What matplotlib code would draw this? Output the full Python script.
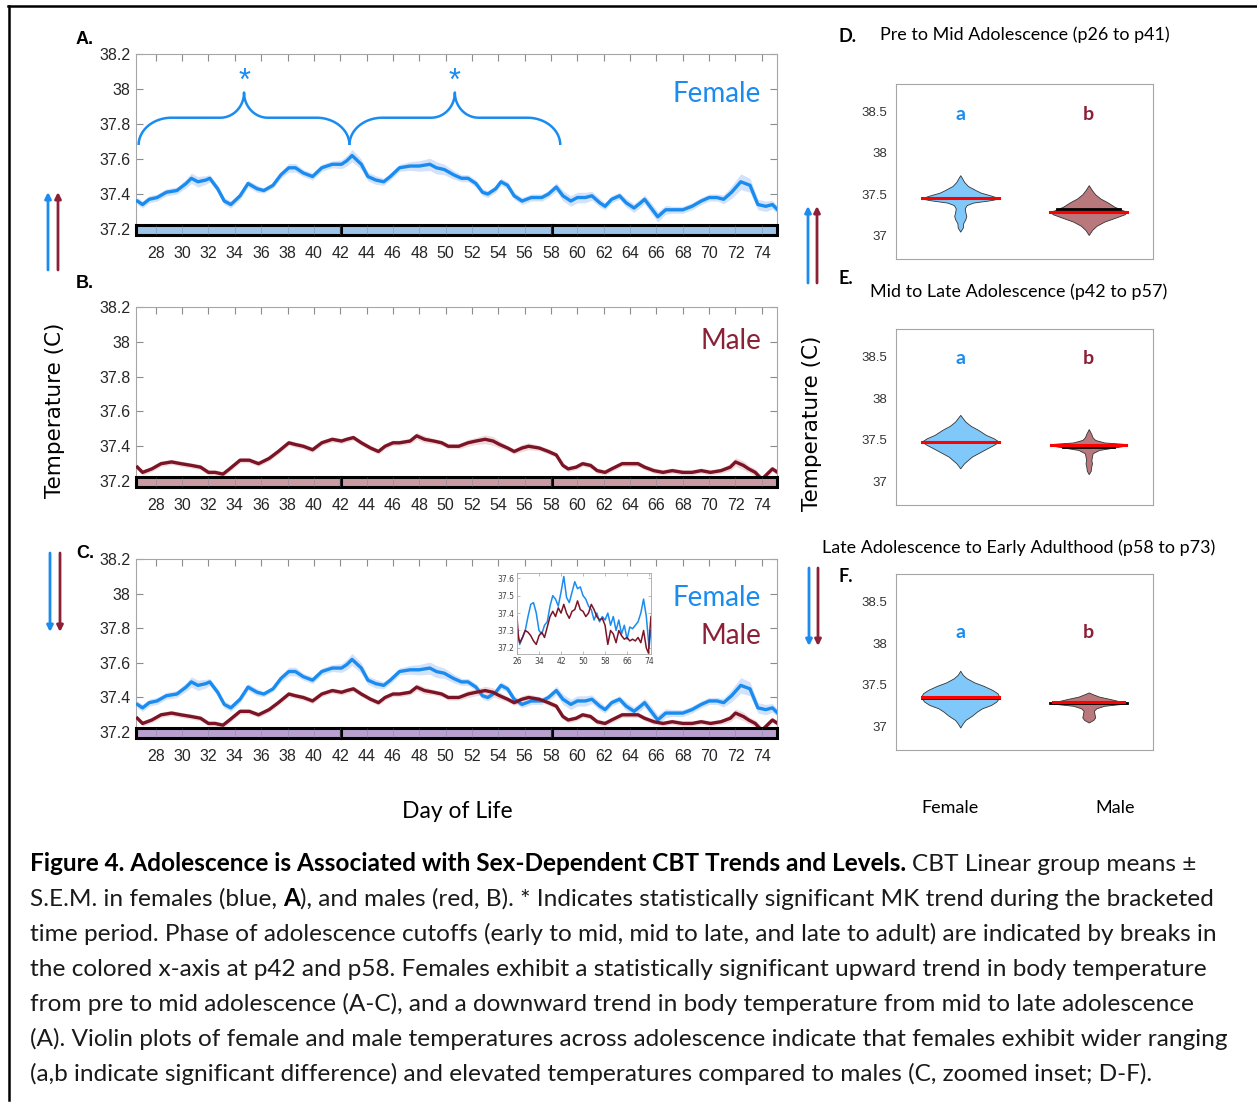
import matplotlib
matplotlib.use("Agg")
import matplotlib.pyplot as plt
import numpy as np
from matplotlib.patches import Rectangle, FancyArrowPatch
from matplotlib.lines import Line2D

W, H = 1257, 1106

# group mean core body temperature (smoothed), females
female_day = [26.6, 27.0, 27.5, 28.1, 28.8, 29.6, 30.3, 30.7, 31.2, 31.8,
              32.1, 32.7, 33.2, 33.7, 34.4, 35.0, 35.7, 36.2, 36.9, 37.5,
              38.1, 38.6, 39.2, 39.9, 40.6, 41.4, 42.1, 42.5, 42.9, 43.6,
              44.1, 44.7, 45.3, 45.8, 46.5, 47.3, 48.0, 48.8, 49.3, 49.9,
              50.6, 51.2, 51.7, 52.3, 52.8, 53.2, 53.8, 54.2, 54.7, 55.2,
              55.8, 56.5, 57.3, 57.8, 58.4, 58.9, 59.5, 60.0, 60.6, 61.1,
              61.7, 62.1, 62.6, 63.2, 63.7, 64.3, 64.8, 65.1, 65.6, 66.1,
              66.7, 67.2, 68.0, 68.7, 69.4, 70.0, 70.6, 71.1, 71.7, 72.4,
              73.1, 73.7, 74.3, 74.8, 75.2]
female_temp = [37.36, 37.34, 37.37, 37.38, 37.41, 37.42, 37.46, 37.49, 37.47, 37.48,
               37.49, 37.43, 37.36, 37.34, 37.39, 37.46, 37.43, 37.42, 37.45, 37.51,
               37.55, 37.55, 37.52, 37.50, 37.55, 37.57, 37.57, 37.59, 37.62, 37.57,
               37.50, 37.48, 37.47, 37.50, 37.55, 37.56, 37.56, 37.57, 37.55, 37.54,
               37.51, 37.49, 37.49, 37.46, 37.41, 37.40, 37.43, 37.47, 37.45, 37.39,
               37.36, 37.38, 37.38, 37.40, 37.44, 37.39, 37.36, 37.38, 37.38, 37.39,
               37.35, 37.33, 37.37, 37.39, 37.35, 37.32, 37.35, 37.37, 37.32, 37.27,
               37.31, 37.31, 37.31, 37.33, 37.36, 37.38, 37.38, 37.37, 37.41, 37.47,
               37.45, 37.34, 37.33, 37.34, 37.31]
female_sem = [0.02, 0.02, 0.02, 0.02, 0.02, 0.02, 0.025, 0.03, 0.03, 0.025,
              0.02, 0.02, 0.02, 0.02, 0.02, 0.02, 0.02, 0.015, 0.015, 0.02,
              0.025, 0.025, 0.02, 0.02, 0.02, 0.02, 0.025, 0.03, 0.035, 0.03,
              0.025, 0.025, 0.02, 0.02, 0.02, 0.025, 0.03, 0.035, 0.035, 0.03,
              0.025, 0.02, 0.02, 0.02, 0.02, 0.02, 0.02, 0.02, 0.02, 0.02,
              0.02, 0.02, 0.02, 0.02, 0.025, 0.03, 0.03, 0.03, 0.03, 0.025,
              0.025, 0.02, 0.02, 0.02, 0.025, 0.025, 0.025, 0.025, 0.03, 0.03,
              0.025, 0.02, 0.02, 0.02, 0.02, 0.02, 0.02, 0.025, 0.035, 0.045,
              0.04, 0.03, 0.03, 0.025, 0.02]

# group mean core body temperature (smoothed), males
male_day = [26.6, 27.0, 27.7, 28.4, 29.2, 29.9, 30.7, 31.4, 32.0, 32.5,
            33.1, 33.6, 34.4, 35.1, 35.8, 36.6, 37.3, 38.1, 38.6, 39.2,
            39.9, 40.6, 41.4, 42.1, 42.5, 43.0, 43.6, 44.3, 44.9, 45.4,
            46.0, 46.5, 47.3, 47.8, 48.4, 49.1, 49.7, 50.2, 51.0, 51.7,
            52.3, 53.0, 53.6, 54.1, 54.7, 55.2, 55.8, 56.3, 57.1, 57.8,
            58.4, 58.9, 59.3, 59.9, 60.4, 61.0, 61.5, 62.1, 62.6, 63.4,
            63.9, 64.6, 65.1, 65.8, 66.5, 67.2, 68.0, 68.7, 69.4, 70.1,
            70.9, 71.6, 72.0, 72.6, 73.0, 73.5, 74.0, 74.4, 74.8, 75.2]
male_temp = [37.28, 37.25, 37.27, 37.30, 37.31, 37.30, 37.29, 37.28, 37.25, 37.25,
             37.24, 37.27, 37.32, 37.32, 37.30, 37.33, 37.37, 37.42, 37.41, 37.40,
             37.38, 37.42, 37.44, 37.43, 37.44, 37.45, 37.42, 37.39, 37.37, 37.40,
             37.42, 37.42, 37.43, 37.46, 37.44, 37.43, 37.42, 37.40, 37.40, 37.42,
             37.43, 37.44, 37.43, 37.41, 37.39, 37.37, 37.39, 37.40, 37.39, 37.37,
             37.35, 37.29, 37.27, 37.28, 37.30, 37.29, 37.26, 37.25, 37.27, 37.30,
             37.30, 37.30, 37.28, 37.26, 37.25, 37.26, 37.25, 37.25, 37.26, 37.25,
             37.26, 37.28, 37.31, 37.29, 37.27, 37.25, 37.21, 37.24, 37.27, 37.25]
male_sem = [0.015, 0.015, 0.015, 0.015, 0.015, 0.015, 0.015, 0.015, 0.015, 0.015,
            0.015, 0.015, 0.015, 0.015, 0.015, 0.015, 0.015, 0.015, 0.015, 0.015,
            0.015, 0.015, 0.015, 0.015, 0.015, 0.015, 0.015, 0.015, 0.015, 0.015,
            0.015, 0.015, 0.015, 0.02, 0.02, 0.015, 0.015, 0.015, 0.015, 0.02,
            0.02, 0.025, 0.025, 0.02, 0.015, 0.015, 0.02, 0.02, 0.015, 0.015,
            0.015, 0.015, 0.015, 0.015, 0.015, 0.015, 0.015, 0.015, 0.015, 0.015,
            0.015, 0.015, 0.015, 0.015, 0.015, 0.015, 0.015, 0.015, 0.015, 0.015,
            0.015, 0.02, 0.025, 0.025, 0.02, 0.02, 0.02, 0.02, 0.015, 0.015]

# daily means for the zoomed inset
inset_f_day = [26, 27, 28, 29, 30, 31, 32, 33, 34, 35, 36, 37, 38, 39, 40, 41, 42,
               43, 44, 45, 46, 47, 48, 49, 50, 51, 52, 53, 54, 55, 56, 57, 58, 59,
               60, 61, 62, 63, 64, 65, 66, 67, 68, 69, 70, 71, 72, 73, 74, 74.6]
inset_f_temp = [37.33, 37.22, 37.26, 37.30, 37.38, 37.45, 37.46, 37.40, 37.30, 37.28,
                37.33, 37.35, 37.44, 37.50, 37.48, 37.44, 37.52, 37.61, 37.49, 37.46,
                37.52, 37.58, 37.54, 37.55, 37.50, 37.48, 37.44, 37.42, 37.36, 37.40,
                37.35, 37.38, 37.36, 37.40, 37.33, 37.38, 37.30, 37.36, 37.28, 37.33,
                37.25, 37.32, 37.31, 37.33, 37.35, 37.40, 37.48, 37.38, 37.20, 37.30]
inset_m_day = [26, 26.5, 27, 28, 29, 30, 31, 32, 33, 34, 35, 36, 37, 38, 39, 40,
               41, 42, 43, 44, 45, 46, 47, 48, 49, 50, 51, 52, 53, 54, 55, 56, 57,
               58, 59, 60, 61, 62, 63, 64, 65, 66, 67, 68, 69, 70, 71, 72, 73,
               73.8, 74.3, 74.7]
inset_m_temp = [37.38, 37.26, 37.23, 37.26, 37.30, 37.29, 37.27, 37.24, 37.22, 37.27,
                37.29, 37.26, 37.32, 37.38, 37.41, 37.38, 37.43, 37.40, 37.45, 37.40,
                37.37, 37.41, 37.42, 37.47, 37.42, 37.41, 37.38, 37.40, 37.45, 37.42,
                37.38, 37.36, 37.37, 37.33, 37.22, 37.30, 37.28, 37.23, 37.30, 37.27,
                37.25, 37.26, 37.24, 37.25, 37.24, 37.26, 37.23, 37.30, 37.20, 37.17,
                37.30, 37.38]

# adolescence phases shown as breaks in the coloured x-axis
phase_edges = [26.5, 42.05, 58.05, 75.15]
# bracketed periods with a significant MK trend (start, peak, end)
trend_brackets = [(26.7, 34.7, 42.7), (42.7, 50.7, 58.7)]

# violin outlines: temperature level and half width
violins = {
    "D": {
        "f_t": [37.05, 37.10, 37.15, 37.20, 37.24, 37.28, 37.33, 37.37, 37.40, 37.43,
                37.45, 37.48, 37.52, 37.55, 37.60, 37.65, 37.70, 37.73],
        "f_w": [0.0, 0.02, 0.022, 0.04, 0.047, 0.04, 0.035, 0.05, 0.10, 0.24,
                0.30, 0.25, 0.16, 0.12, 0.06, 0.03, 0.012, 0.0],
        "m_t": [37.01, 37.07, 37.12, 37.17, 37.22, 37.26, 37.29, 37.31, 37.35, 37.40,
                37.45, 37.50, 37.55, 37.61],
        "m_w": [0.0, 0.026, 0.06, 0.12, 0.21, 0.28, 0.30, 0.26, 0.20, 0.15,
                0.09, 0.05, 0.025, 0.0],
        "f_mean": 37.45, "f_median": 37.45, "m_mean": 37.29, "m_median": 37.32,
    },
    "E": {
        "f_t": [37.16, 37.22, 37.26, 37.30, 37.35, 37.40, 37.44, 37.48, 37.52, 37.56,
                37.62, 37.67, 37.72, 37.77, 37.80],
        "f_w": [0.0, 0.03, 0.06, 0.09, 0.15, 0.21, 0.26, 0.30, 0.26, 0.20,
                0.14, 0.08, 0.04, 0.015, 0.0],
        "m_t": [37.09, 37.13, 37.17, 37.22, 37.26, 37.30, 37.34, 37.38, 37.41, 37.43,
                37.45, 37.47, 37.50, 37.53, 37.57, 37.60, 37.63],
        "m_w": [0.0, 0.015, 0.018, 0.025, 0.02, 0.025, 0.03, 0.08, 0.20, 0.28,
                0.30, 0.12, 0.05, 0.03, 0.02, 0.01, 0.0],
        "f_mean": 37.48, "f_median": 37.48, "m_mean": 37.44, "m_median": 37.41,
    },
    "F": {
        "f_t": [36.99, 37.04, 37.08, 37.13, 37.18, 37.22, 37.26, 37.30, 37.34, 37.37,
                37.40, 37.44, 37.49, 37.53, 37.58, 37.62, 37.67],
        "f_w": [0.0, 0.02, 0.04, 0.09, 0.13, 0.17, 0.24, 0.28, 0.30, 0.30,
                0.29, 0.25, 0.18, 0.11, 0.05, 0.02, 0.0],
        "m_t": [37.05, 37.08, 37.11, 37.15, 37.19, 37.22, 37.25, 37.28, 37.30, 37.33,
                37.36, 37.39, 37.41],
        "m_w": [0.0, 0.035, 0.05, 0.045, 0.04, 0.06, 0.12, 0.30, 0.25, 0.17,
                0.08, 0.03, 0.0],
        "f_mean": 37.36, "f_median": 37.34, "m_mean": 37.29, "m_median": 37.28,
    },
}

FEMALE = "#1a8cf0"
MALE = "#7b1425"
MALE_TXT = "#8b2136"
CAL = "Lato"
ARIAL = "Liberation Sans"
CAPTION_SIZE = 17.6


def px_rect(left, top, right, bottom):
    return [left / W, 1 - bottom / H, (right - left) / W, (bottom - top) / H]


def ftext(x, y, s, **kw):
    return fig.text(x / W, 1 - y / H, s, **kw)


def arrow(x, y0, y1, color):
    fig.add_artist(FancyArrowPatch((x / W, 1 - y0 / H), (x / W, 1 - y1 / H),
                                   transform=fig.transFigure, arrowstyle="-|>",
                                   mutation_scale=9, lw=2, color=color,
                                   shrinkA=0, shrinkB=0))


def brace(ax, x0, xm, x1, ybase=37.68, yflat=37.836, ytip=37.98, color=FEMALE):
    rc, rt = 2.5, 1.8
    a = np.linspace(0, np.pi / 2, 30)
    xs = list(x0 + rc - rc * np.cos(a))
    ys = list(ybase + (yflat - ybase) * np.sin(a))
    xs += list(xm - rt + rt * np.sin(a))
    ys += list(ytip - (ytip - yflat) * np.cos(a))
    xs += list(xm + rt - rt * np.sin(a[::-1]))
    ys += list(ytip - (ytip - yflat) * np.cos(a[::-1]))
    xs += list(x1 - rc + rc * np.cos(a[::-1]))
    ys += list(ybase + (yflat - ybase) * np.sin(a[::-1]))
    ax.plot(xs, ys, color=color, lw=1.8, solid_capstyle="butt")


def time_axes(rect, bar_color):
    ax = fig.add_axes(rect)
    ax.set_xlim(phase_edges[0], phase_edges[-1])
    ax.set_ylim(37.166, 38.2)
    ax.set_xticks(range(28, 75, 2))
    ax.set_yticks([37.2, 37.4, 37.6, 37.8, 38.0, 38.2])
    ax.set_yticklabels(["37.2", "37.4", "37.6", "37.8", "38", "38.2"])
    ax.tick_params(direction="in", top=True, right=True, length=5, width=0.8,
                   color="#8c8c8c", labelcolor="#262626", labelsize=11.5)
    ax.tick_params(axis="x", pad=8)
    ax.tick_params(axis="y", pad=4)
    for lab in ax.get_xticklabels() + ax.get_yticklabels():
        lab.set_fontfamily(ARIAL)
    for sp in ax.spines.values():
        sp.set_color("#a6a6a6")
        sp.set_linewidth(0.8)
    y0, y1 = 37.168, 37.224
    for a, b in zip(phase_edges[:-1], phase_edges[1:]):
        ax.add_patch(Rectangle((a, y0), b - a, y1 - y0, facecolor=bar_color,
                               edgecolor="black", lw=2.2, zorder=5, clip_on=False))
    ax.vlines(range(28, 75, 2), y0, y1, color="#6f7f8f", lw=0.5, alpha=0.5, zorder=6)
    return ax


def draw_series(ax, day, temp, sem, color, band):
    t = np.array(temp)
    s = np.array(sem)
    ax.fill_between(day, t - s, t + s, color=band, lw=0, zorder=1)
    ax.plot(day, t, color=color, lw=2.4, zorder=3)


fig = plt.figure(figsize=(W / 100, H / 100), dpi=100)

# panel A: females
axA = time_axes(px_rect(136, 54, 777, 235), "#9dc3e8")
draw_series(axA, female_day, female_temp, female_sem, FEMALE, "#d3e2fa")
for x0, xm, x1 in trend_brackets:
    brace(axA, x0, xm, x1)
    axA.text(xm, 38.04, "*", color=FEMALE, fontsize=22, ha="center", va="center",
             family=ARIAL)
axA.text(0.975, 0.78, "Female", transform=axA.transAxes, color=FEMALE,
         fontsize=20, family=CAL, ha="right", va="center")

# panel B: males
axB = time_axes(px_rect(136, 307, 777, 487), "#c99ca3")
draw_series(axB, male_day, male_temp, male_sem, MALE, "#efd9dc")
axB.text(0.975, 0.81, "Male", transform=axB.transAxes, color=MALE_TXT,
         fontsize=20, family=CAL, ha="right", va="center")

# panel C: both sexes
axC = time_axes(px_rect(136, 559, 777, 738), "#b9a0cf")
draw_series(axC, female_day, female_temp, female_sem, FEMALE, "#d3e2fa")
draw_series(axC, male_day, male_temp, male_sem, MALE, "#efd9dc")
axC.text(0.975, 0.78, "Female", transform=axC.transAxes, color=FEMALE,
         fontsize=20, family=CAL, ha="right", va="center")
axC.text(0.975, 0.57, "Male", transform=axC.transAxes, color=MALE_TXT,
         fontsize=20, family=CAL, ha="right", va="center")

# zoomed inset
axI = fig.add_axes(px_rect(517, 573, 651, 654))
axI.plot(inset_f_day, inset_f_temp, color=FEMALE, lw=1.1)
axI.plot(inset_m_day, inset_m_temp, color=MALE, lw=1.1)
axI.set_xlim(26, 74.7)
axI.set_ylim(37.165, 37.63)
axI.set_xticks([26, 34, 42, 50, 58, 66, 74])
axI.set_yticks([37.2, 37.3, 37.4, 37.5, 37.6])
axI.tick_params(direction="in", top=True, right=True, length=2, width=0.5,
                color="#a0a0a0", labelcolor="#404040", labelsize=5.5, pad=2)
for sp in axI.spines.values():
    sp.set_color("#a6a6a6")
    sp.set_linewidth(0.6)

# violin panels D-F
for key, (top, bot) in zip("DEF", [(84, 259), (329, 505), (574, 750)]):
    v = violins[key]
    ax = fig.add_axes(px_rect(896, top, 1153, bot))
    ax.set_xlim(0.5, 2.5)
    ax.set_ylim(36.72, 38.83)
    ax.set_xticks([])
    ax.set_yticks([37, 37.5, 38, 38.5])
    ax.set_yticklabels(["37", "37.5", "38", "38.5"])
    ax.tick_params(length=0, labelsize=9.5, labelcolor="#333333", pad=6)
    for lab in ax.get_yticklabels():
        lab.set_fontfamily(ARIAL)
    for sp in ax.spines.values():
        sp.set_color("#a6a6a6")
        sp.set_linewidth(0.8)
    for pos, t, w, fill, mean, med in [
        (1, v["f_t"], v["f_w"], "#80c8fa", v["f_mean"], v["f_median"]),
        (2, v["m_t"], v["m_w"], "#b9787c", v["m_mean"], v["m_median"]),
    ]:
        t = np.array(t)
        w = np.array(w)
        ax.fill_betweenx(t, pos - w, pos + w, facecolor=fill, edgecolor="#333333",
                         lw=0.6)
        hw = np.interp(med, t, w)
        ax.plot([pos - hw, pos + hw], [med, med], color="black", lw=2.0)
        hw = np.interp(mean, t, w)
        ax.plot([pos - hw, pos + hw], [mean, mean], color="red", lw=2.2)
    ya = {"D": 0.823, "E": 0.835, "F": 0.665}[key]
    ax.text(1, ya, "a", transform=ax.get_xaxis_transform(), color=FEMALE,
            fontsize=14, fontweight="bold", family=CAL, ha="center", va="center")
    ax.text(2, ya, "b", transform=ax.get_xaxis_transform(), color=MALE_TXT,
            fontsize=14, fontweight="bold", family=CAL, ha="center", va="center")

# panel letters and titles
for lab, y in [("A.", 40), ("B.", 283), ("C.", 553)]:
    ftext(76, y, lab, fontsize=13, fontweight="bold", family=ARIAL, va="center")
for lab, y in [("D.", 36), ("E.", 279), ("F.", 576)]:
    ftext(838, y, lab, fontsize=13, fontweight="bold", family=CAL, va="center")
ftext(880, 35, "Pre to Mid Adolescence (p26 to p41)", fontsize=12.9, family=CAL,
      va="center")
ftext(870, 292, "Mid to Late Adolescence (p42 to p57)", fontsize=12.9, family=CAL,
      va="center")
ftext(822, 548, "Late Adolescence to Early Adulthood (p58 to p73)", fontsize=12.9,
      family=CAL, va="center")
ftext(950, 808, "Female", fontsize=13, family=CAL, ha="center", va="center")
ftext(1115, 808, "Male", fontsize=13, family=CAL, ha="center", va="center")

ftext(55, 410, "Temperature (C)", fontsize=15.5, rotation=90, ha="center",
      va="center", family="DejaVu Sans")
ftext(812, 423, "Temperature (C)", fontsize=15.5, rotation=90, ha="center",
      va="center", family="DejaVu Sans")
ftext(457, 812, "Day of Life", fontsize=16.5, family=CAL, ha="center", va="center")

# trend arrows
arrow(48, 270, 192, FEMALE)
arrow(58, 270, 192, MALE_TXT)
arrow(808, 283, 206, FEMALE)
arrow(817, 283, 206, MALE_TXT)
arrow(50, 553, 632, FEMALE)
arrow(60, 553, 632, MALE_TXT)
arrow(809, 568, 646, FEMALE)
arrow(818, 568, 646, MALE_TXT)

# frame
fig.add_artist(Line2D([8 / W, 1], [1 - 6 / H, 1 - 6 / H], color="black", lw=1.8,
                      transform=fig.transFigure))
fig.add_artist(Line2D([9 / W, 9 / W], [1 - 6 / H, 1 - 1100 / H], color="black",
                      lw=1.8, transform=fig.transFigure))

# caption, drawn run by run so bold and plain text share a line
caption = [
    [("Figure 4. Adolescence is Associated with Sex-Dependent CBT Trends and Levels.", "bold"),
     (" CBT Linear group means \u00b1", "normal")],
    [("S.E.M. in females (blue,", "normal"), (" A", "bold"),
     ("), and males (red, B). * Indicates statistically significant MK trend during the bracketed", "normal")],
    [("time period. Phase of adolescence cutoffs (early to mid, mid to late, and late to adult) are indicated by breaks in", "normal")],
    [("the colored x-axis at p42 and p58. Females exhibit a statistically significant upward trend in body temperature", "normal")],
    [("from pre to mid adolescence (A-C), and a downward trend in body temperature from mid to late adolescence", "normal")],
    [("(A). Violin plots of female and male temperatures across adolescence indicate that females exhibit wider ranging", "normal")],
    [("(a,b indicate significant difference) and elevated temperatures compared to males (C, zoomed inset; D-F).", "normal")],
]
renderer = fig.canvas.get_renderer()
probe = fig.text(0, 0, "a a", fontsize=CAPTION_SIZE, family=CAL)
w2 = probe.get_window_extent(renderer).width
probe.set_text("aa")
space = w2 - probe.get_window_extent(renderer).width
probe.remove()
for i, runs in enumerate(caption):
    x = 30
    y = 871 + 35 * i
    for text, weight in runs:
        if text.startswith(" "):
            x += space
            text = text[1:]
        t = ftext(x, y, text, fontsize=CAPTION_SIZE, fontweight=weight, family=CAL,
                  va="baseline", color="#1a1a1a" if weight == "normal" else "black")
        x = t.get_window_extent(renderer).x1

fig.savefig("out.png", dpi=100)
